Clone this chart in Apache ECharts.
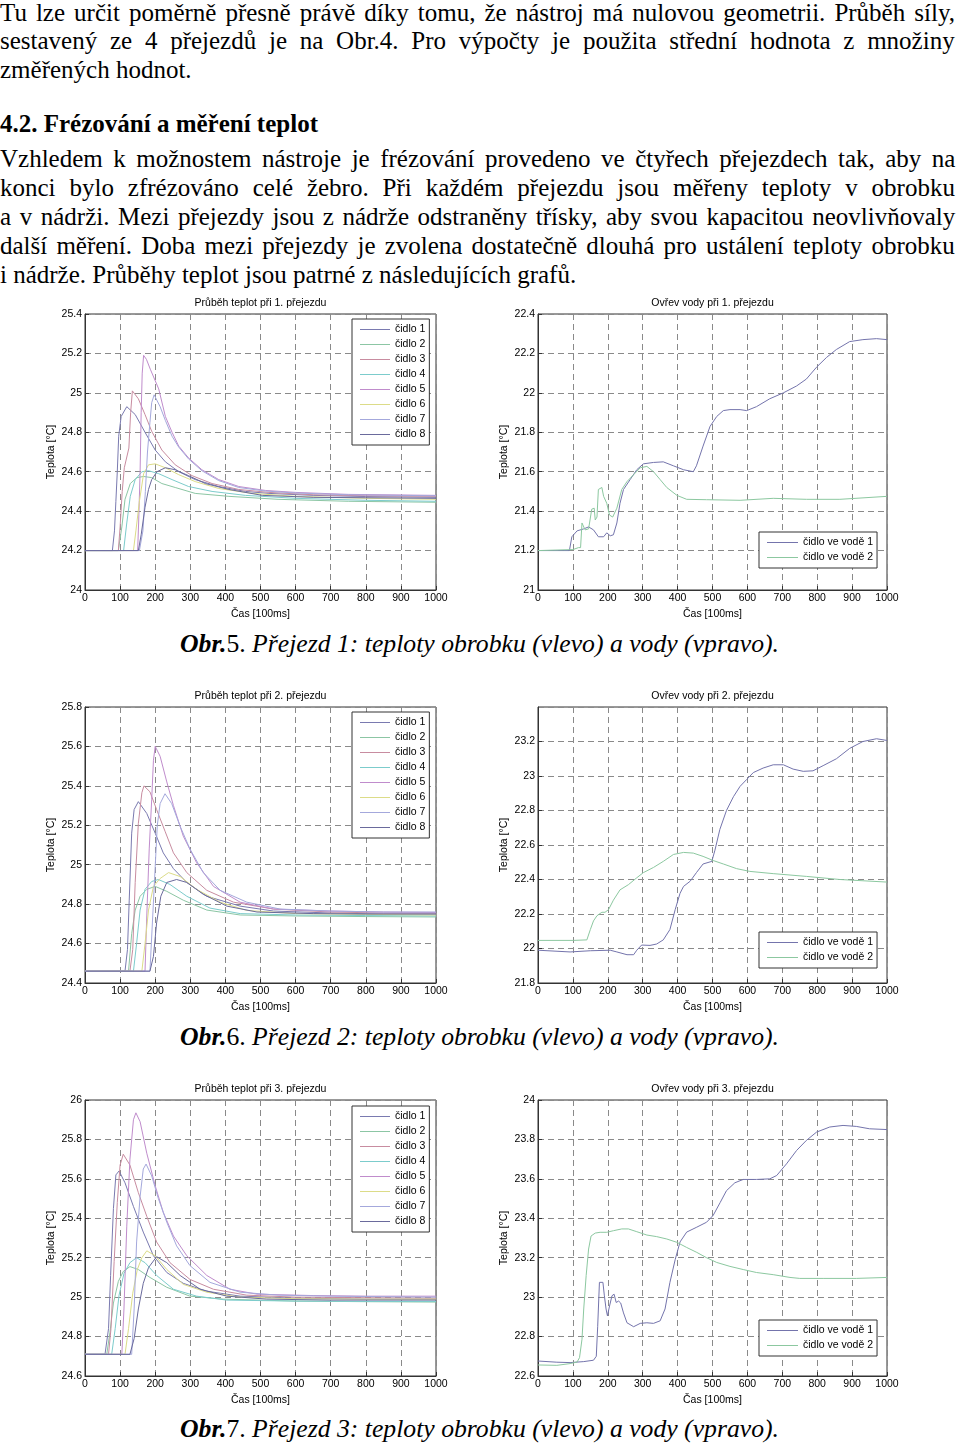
<!DOCTYPE html>
<html><head><meta charset="utf-8">
<script src="https://cdn.jsdelivr.net/npm/echarts@6/dist/echarts.min.js"></script>
<style>
html,body{margin:0;padding:0;background:#fff}
body{width:960px;height:1446px;position:relative;overflow:hidden}
.t{position:absolute;left:0;white-space:nowrap;font-family:"Liberation Serif","Times New Roman",serif;font-size:25px;line-height:29px;color:#000}
.cap{position:absolute;white-space:nowrap;font-family:"Liberation Serif","Times New Roman",serif;font-size:25.7px;line-height:34px;color:#000}
.c{position:absolute}
</style></head><body>
<div class="t j" data-w="955" style="top:-2px">Tu lze určit poměrně přesně právě díky tomu, že nástroj má nulovou geometrii. Průběh síly,</div>
<div class="t j" data-w="955" style="top:26px">sestavený ze 4 přejezdů je na Obr.4. Pro výpočty je použita střední hodnota z množiny</div>
<div class="t" style="top:55px">změřených hodnot.</div>
<div class="t" style="top:109px;font-weight:bold">4.2. Frézování a měření teplot</div>
<div class="t j" data-w="955" style="top:144px">Vzhledem k možnostem nástroje je frézování provedeno ve čtyřech přejezdech tak, aby na</div>
<div class="t j" data-w="955" style="top:173px">konci bylo zfrézováno celé žebro. Při každém přejezdu jsou měřeny teploty v obrobku</div>
<div class="t j" data-w="955" style="top:202px">a v nádrži. Mezi přejezdy jsou z nádrže odstraněny třísky, aby svou kapacitou neovlivňovaly</div>
<div class="t j" data-w="955" style="top:231px">další měření. Doba mezi přejezdy je zvolena dostatečně dlouhá pro ustálení teploty obrobku</div>
<div class="t" style="top:260px">i nádrže. Průběhy teplot jsou patrné z následujících grafů.</div>

<div class="cap" style="left:180px;top:627px"><b><i>Obr.</i></b>5. <i>Přejezd 1: teploty obrobku (vlevo) a vody (vpravo).</i></div>
<div class="cap" style="left:180px;top:1020px"><b><i>Obr.</i></b>6. <i>Přejezd 2: teploty obrobku (vlevo) a vody (vpravo).</i></div>
<div class="cap" style="left:180px;top:1412px"><b><i>Obr.</i></b>7. <i>Přejezd 3: teploty obrobku (vlevo) a vody (vpravo).</i></div>

<div id="L1" class="c" style="left:0;top:280px;width:480px;height:345px"></div>
<div id="R1" class="c" style="left:480px;top:280px;width:480px;height:345px"></div>
<div id="L2" class="c" style="left:0;top:673px;width:480px;height:345px"></div>
<div id="R2" class="c" style="left:480px;top:673px;width:480px;height:345px"></div>
<div id="L3" class="c" style="left:0;top:1066px;width:480px;height:345px"></div>
<div id="R3" class="c" style="left:480px;top:1066px;width:480px;height:345px"></div>

<script>
// ---- labels ----
const sensorNames = ['čidlo 1','čidlo 2','čidlo 3','čidlo 4','čidlo 5','čidlo 6','čidlo 7','čidlo 8'];
const waterNames = ['čidlo ve vodě 1','čidlo ve vodě 2'];
const leftTitles = ['Průběh teplot při 1. přejezdu','Průběh teplot při 2. přejezdu','Průběh teplot při 3. přejezdu'];
const rightTitles = ['Ovřev vody při 1. přejezdu','Ovřev vody při 2. přejezdu','Ovřev vody při 3. přejezdu'];
const xName = 'Čas [100ms]';
const yName = 'Teplota [°C]';
const xRange = [0, 1000, 100];
const leftRanges = [[24, 25.4], [24.4, 25.8], [24.6, 26]];
const rightRanges = [[21, 22.4], [21.8, 23.4], [22.6, 24]];

// ---- pass 1, workpiece ----
const p1_c1 = [[0,24.2],[78,24.2],[84,24.3],[88,24.45],[92,24.6],[96,24.78],[103,24.88],[119,24.93],[143,24.89],[171,24.8],[200,24.71],[229,24.65],[267,24.6],[314,24.56],[381,24.525],[457,24.5],[524,24.49],[650,24.48],[800,24.474],[1000,24.47]];
const p1_c2 = [[0,24.2],[95,24.2],[105,24.32],[114,24.46],[129,24.54],[148,24.57],[167,24.576],[190,24.57],[219,24.54],[257,24.52],[314,24.49],[410,24.475],[550,24.46],[750,24.45],[1000,24.445]];
const p1_c3 = [[0,24.2],[95,24.2],[100,24.32],[106,24.5],[112,24.62],[125,24.72],[130,24.9],[135,25.01],[152,24.97],[171,24.89],[190,24.805],[219,24.71],[257,24.635],[305,24.58],[362,24.54],[438,24.51],[524,24.495],[650,24.483],[800,24.478],[1000,24.475]];
const p1_c4 = [[0,24.2],[110,24.2],[119,24.34],[129,24.475],[143,24.56],[162,24.6],[181,24.605],[210,24.59],[248,24.56],[295,24.525],[362,24.5],[457,24.48],[600,24.465],[800,24.455],[1000,24.45]];
const p1_c5 = [[0,24.2],[150,24.2],[153,24.35],[157,24.6],[160,24.9],[163,25.1],[167,25.19],[175,25.17],[186,25.12],[210,25.02],[229,24.88],[248,24.8],[267,24.73],[295,24.67],[333,24.61],[381,24.56],[438,24.525],[514,24.505],[600,24.495],[750,24.485],[1000,24.48]];
const p1_c6 = [[0,24.2],[138,24.2],[145,24.3],[155,24.45],[167,24.59],[181,24.635],[200,24.64],[229,24.62],[267,24.585],[314,24.55],[381,24.515],[476,24.49],[600,24.475],[800,24.465],[1000,24.46]];
const p1_c7 = [[0,24.2],[155,24.2],[165,24.3],[172,24.5],[178,24.7],[185,24.85],[190,24.95],[197,24.99],[214,24.93],[229,24.86],[248,24.78],[267,24.725],[295,24.665],[333,24.605],[381,24.555],[438,24.52],[514,24.502],[600,24.492],[750,24.483],[1000,24.478]];
const p1_c8 = [[0,24.2],[152,24.2],[160,24.28],[171,24.42],[181,24.51],[190,24.56],[205,24.6],[229,24.62],[257,24.61],[295,24.58],[343,24.54],[410,24.51],[505,24.48],[650,24.47],[800,24.468],[1000,24.465]];

// ---- pass 2, workpiece ----
const p2_c1 = [[0,24.46],[114,24.46],[121,24.57],[126,24.82],[133,25.16],[140,25.28],[152,25.32],[176,25.26],[200,25.16],[223,25.06],[252,24.98],[290,24.91],[347,24.84],[442,24.79],[537,24.765],[700,24.755],[850,24.75],[1000,24.75]];
const p2_c2 = [[0,24.46],[124,24.46],[133,24.65],[143,24.77],[157,24.84],[176,24.875],[200,24.89],[233,24.865],[280,24.82],[347,24.77],[442,24.745],[600,24.74],[800,24.737],[1000,24.735]];
const p2_c3 = [[0,24.46],[128,24.46],[136,24.57],[143,24.91],[152,25.21],[162,25.365],[168,25.4],[185,25.37],[204,25.28],[228,25.17],[252,25.06],[290,24.96],[347,24.87],[423,24.81],[537,24.775],[700,24.76],[850,24.755],[1000,24.755]];
const p2_c4 = [[0,24.46],[138,24.46],[147,24.6],[157,24.77],[171,24.875],[190,24.915],[209,24.925],[242,24.9],[290,24.84],[356,24.78],[442,24.752],[600,24.745],[800,24.742],[1000,24.74]];
const p2_c5 = [[0,24.46],[171,24.46],[176,24.74],[183,25.08],[190,25.33],[195,25.53],[200,25.6],[214,25.55],[233,25.42],[252,25.3],[280,25.145],[318,25.01],[366,24.89],[442,24.81],[537,24.775],[700,24.765],[850,24.76],[1000,24.758]];
const p2_c6 = [[0,24.46],[162,24.46],[171,24.6],[181,24.77],[195,24.89],[214,24.93],[238,24.96],[271,24.94],[318,24.875],[385,24.81],[461,24.768],[600,24.752],[800,24.748],[1000,24.745]];
const p2_c7 = [[0,24.46],[185,24.46],[193,24.74],[200,24.99],[206,25.2],[214,25.31],[228,25.36],[247,25.31],[271,25.195],[299,25.08],[337,24.96],[385,24.87],[461,24.81],[556,24.775],[700,24.765],[850,24.76],[1000,24.76]];
const p2_c8 = [[0,24.46],[185,24.46],[195,24.535],[204,24.705],[216,24.84],[233,24.91],[261,24.925],[290,24.91],[337,24.85],[404,24.79],[490,24.76],[650,24.752],[800,24.75],[1000,24.75]];

// ---- pass 3, workpiece ----
const p3_c1 = [[0,24.71],[57,24.71],[67,24.84],[73,25.11],[81,25.45],[88,25.62],[97,25.64],[114,25.58],[138,25.46],[166,25.33],[195,25.21],[233,25.125],[280,25.07],[347,25.03],[442,25.005],[600,24.995],[800,24.99],[1000,24.99]];
const p3_c2 = [[0,24.71],[62,24.71],[71,24.82],[81,24.97],[95,25.08],[109,25.13],[128,25.155],[152,25.14],[185,25.1],[233,25.05],[299,25.005],[394,24.99],[600,24.98],[800,24.977],[1000,24.975]];
const p3_c3 = [[0,24.71],[67,24.71],[74,24.84],[83,25.18],[92,25.48],[100,25.67],[109,25.725],[128,25.67],[152,25.53],[176,25.41],[204,25.28],[242,25.175],[299,25.09],[366,25.04],[461,25.01],[600,25.0],[800,24.997],[1000,24.995]];
const p3_c4 = [[0,24.71],[76,24.71],[86,24.84],[97,25.01],[111,25.12],[128,25.175],[147,25.2],[171,25.175],[204,25.11],[252,25.04],[318,25.005],[404,24.985],[600,24.98],[800,24.978],[1000,24.978]];
const p3_c5 = [[0,24.71],[105,24.71],[111,24.94],[119,25.36],[128,25.7],[138,25.9],[145,25.935],[157,25.89],[176,25.73],[200,25.565],[223,25.43],[252,25.31],[290,25.21],[347,25.11],[413,25.04],[490,25.015],[650,25.008],[800,25.005],[1000,25.005]];
const p3_c6 = [[0,24.71],[114,24.71],[124,24.84],[136,25.02],[149,25.14],[162,25.2],[176,25.235],[200,25.21],[233,25.14],[280,25.065],[347,25.025],[442,25.0],[600,24.992],[800,24.99],[1000,24.99]];
const p3_c7 = [[0,24.71],[133,24.71],[140,24.94],[147,25.28],[157,25.51],[166,25.65],[174,25.675],[190,25.615],[209,25.5],[233,25.38],[261,25.26],[299,25.16],[356,25.075],[442,25.025],[550,25.01],[700,25.005],[1000,25.0]];
const p3_c8 = [[0,24.71],[128,24.71],[140,24.79],[152,24.94],[166,25.07],[181,25.15],[204,25.205],[233,25.175],[271,25.11],[328,25.04],[404,25.005],[518,24.99],[700,24.985],[1000,24.985]];

// ---- water ----
const p1_w1 = [[0,21.2],[90,21.2],[97,21.27],[112,21.3],[131,21.31],[145,21.32],[159,21.305],[173,21.27],[188,21.27],[197,21.29],[207,21.275],[216,21.28],[226,21.34],[235,21.44],[245,21.51],[264,21.56],[283,21.61],[302,21.64],[331,21.647],[359,21.65],[388,21.63],[417,21.61],[445,21.6],[454,21.63],[473,21.73],[493,21.83],[512,21.88],[531,21.91],[550,21.915],[579,21.915],[598,21.91],[626,21.93],[664,21.97],[703,22.0],[741,22.035],[769,22.07],[798,22.13],[827,22.18],[855,22.22],[893,22.26],[931,22.27],[970,22.275],[1000,22.27]];
const p1_w2 = [[0,21.2],[100,21.205],[116,21.215],[122,21.215],[126,21.34],[131,21.35],[135,21.305],[145,21.31],[154,21.41],[161,21.415],[164,21.355],[169,21.37],[173,21.51],[183,21.52],[188,21.475],[197,21.44],[205,21.38],[214,21.37],[226,21.415],[240,21.51],[255,21.55],[274,21.585],[293,21.62],[312,21.627],[331,21.6],[350,21.56],[369,21.52],[398,21.48],[426,21.46],[483,21.458],[579,21.455],[674,21.465],[769,21.46],[865,21.46],[1000,21.475]];
const p2_w1 = [[0,21.99],[92,21.98],[150,21.987],[207,21.99],[226,21.98],[255,21.964],[274,21.964],[283,21.99],[297,22.02],[321,22.018],[340,22.026],[359,22.05],[378,22.11],[393,22.225],[407,22.32],[417,22.36],[436,22.39],[454,22.44],[473,22.49],[498,22.505],[507,22.57],[521,22.69],[540,22.8],[560,22.88],[579,22.94],[598,22.98],[617,23.02],[645,23.046],[674,23.065],[703,23.065],[731,23.04],[760,23.027],[788,23.03],[817,23.06],[855,23.1],[893,23.16],[931,23.2],[970,23.216],[1000,23.206]];
const p2_w2 = [[0,22.047],[102,22.047],[140,22.05],[150,22.11],[159,22.16],[169,22.19],[183,22.21],[192,22.21],[202,22.225],[216,22.28],[235,22.34],[259,22.37],[283,22.41],[302,22.44],[331,22.47],[359,22.505],[388,22.545],[417,22.557],[445,22.553],[473,22.534],[502,22.51],[531,22.49],[569,22.463],[607,22.447],[674,22.434],[769,22.418],[865,22.4],[1000,22.385]];
const p3_w1 = [[0,22.676],[54,22.67],[92,22.668],[131,22.673],[159,22.68],[167,22.7],[171,22.85],[176,23.075],[180,23.08],[186,23.075],[190,23.01],[195,22.94],[199,22.905],[205,22.955],[212,23.007],[218,23.015],[224,22.973],[231,22.98],[237,22.97],[245,22.92],[255,22.87],[274,22.85],[293,22.867],[312,22.87],[331,22.867],[350,22.88],[364,22.94],[378,23.075],[393,23.19],[407,23.28],[426,23.33],[455,23.355],[483,23.38],[502,23.415],[522,23.48],[540,23.54],[564,23.58],[588,23.597],[626,23.597],[664,23.6],[684,23.617],[712,23.676],[741,23.744],[769,23.795],[798,23.837],[836,23.863],[874,23.871],[912,23.866],[950,23.854],[1000,23.85]];
const p3_w2 = [[0,22.656],[54,22.654],[92,22.663],[112,22.671],[119,22.693],[126,22.786],[131,22.94],[138,23.11],[145,23.244],[152,23.31],[164,23.325],[178,23.329],[197,23.329],[216,23.337],[240,23.346],[259,23.346],[283,23.332],[312,23.315],[340,23.307],[369,23.295],[398,23.278],[426,23.252],[455,23.227],[483,23.2],[512,23.176],[550,23.156],[588,23.14],[626,23.125],[674,23.114],[722,23.1],[750,23.095],[817,23.095],[912,23.095],[1000,23.1]];

const sensorColors = ['#7a7ab0','#8cc6a4','#c88ca0','#7ccccc','#c08ccc','#dcdc88','#a4a8dc','#6a6a9c'];
const waterColors = ['#7474ac','#8cc8a0'];

// ---- text justification ----
document.querySelectorAll('.j').forEach(el => {
  const target = +el.dataset.w;
  const nat = el.offsetWidth;
  const spaces = (el.textContent.match(/ /g) || []).length;
  if (spaces) el.style.wordSpacing = ((target - nat) / spaces) + 'px';
});

const FONT = '"Liberation Sans", Arial, Helvetica, sans-serif';
const FS = 10.5;

function build(id, cfg) {
  const chart = echarts.init(document.getElementById(id), null, {renderer: 'canvas'});
  const g = cfg.grid;
  const series = cfg.names.map((n, i) => ({
    name: n, type: 'line', data: cfg.data[i], showSymbol: false, symbol: 'none',
    silent: true, animation: false,
    lineStyle: {width: 1, color: cfg.colors[i]}, itemStyle: {color: cfg.colors[i]}
  }));
  chart.setOption({
    animation: false,
    graphic: [{
      type: 'text', x: g.left + g.width / 2, y: g.top - 11,
      style: {text: cfg.title, font: FS + 'px ' + FONT, fill: '#000', textAlign: 'center', textVerticalAlign: 'middle'}
    }],
    grid: {left: g.left, top: g.top, width: g.width, height: g.height, show: true, borderColor: '#333', borderWidth: 1, backgroundColor: '#fff'},
    xAxis: {
      type: 'value', min: xRange[0], max: xRange[1], interval: xRange[2],
      axisLine: {show: true, lineStyle: {color: '#333'}},
      axisTick: {show: true, inside: true, length: 4, lineStyle: {color: '#333'}},
      axisLabel: {color: '#000', fontSize: FS, fontFamily: FONT, margin: 3, formatter: v => String(v)},
      splitLine: {show: true, lineStyle: {color: '#8a8a8a', width: 1, type: [6, 4]}},
      name: xName, nameLocation: 'middle', nameGap: 17,
      nameTextStyle: {color: '#000', fontSize: FS, fontFamily: FONT}
    },
    yAxis: {
      type: 'value', min: cfg.yr[0], max: cfg.yr[1], interval: 0.2,
      axisLine: {show: true, lineStyle: {color: '#333'}},
      axisTick: {show: true, inside: true, length: 4, lineStyle: {color: '#333'}},
      axisLabel: {color: '#000', fontSize: FS, fontFamily: FONT, margin: 3, showMaxLabel: !cfg.hideMax,
        formatter: v => String(Math.round(v * 10) / 10)},
      splitLine: {show: true, lineStyle: {color: '#8a8a8a', width: 1, type: [6, 4]}},
      name: yName, nameLocation: 'middle', nameGap: 28, nameMoveOverlap: false,
      nameTextStyle: {color: '#000', fontSize: FS, fontFamily: FONT}
    },
    legend: {
      show: true, orient: 'vertical', left: cfg.legend.left, top: cfg.legend.top,
      data: cfg.names, selectedMode: false, icon: 'rect',
      itemWidth: cfg.legend.iw, itemHeight: 1, itemGap: 4,
      padding: [5, 4, 5, 8], borderColor: '#333', borderWidth: 1, backgroundColor: '#fff', borderRadius: 0,
      textStyle: {color: '#000', fontSize: FS, fontFamily: FONT, lineHeight: 11}
    },
    series: series
  });
}

const leftGrid = {left: 85, top: 34, width: 351, height: 276};
const rightGrid = {left: 58, top: 34, width: 349, height: 276};
const leftData = [
  [p1_c1,p1_c2,p1_c3,p1_c4,p1_c5,p1_c6,p1_c7,p1_c8],
  [p2_c1,p2_c2,p2_c3,p2_c4,p2_c5,p2_c6,p2_c7,p2_c8],
  [p3_c1,p3_c2,p3_c3,p3_c4,p3_c5,p3_c6,p3_c7,p3_c8]
];
const rightData = [[p1_w1,p1_w2],[p2_w1,p2_w2],[p3_w1,p3_w2]];
const rightLegendTop = [252, 259, 254];
const leftLegendTop = [39, 39, 40];

for (let r = 0; r < 3; r++) {
  build('L' + (r + 1), {grid: leftGrid, title: leftTitles[r], yr: leftRanges[r], names: sensorNames,
    data: leftData[r], colors: sensorColors, legend: {left: 352, top: leftLegendTop[r], iw: 30}});
  build('R' + (r + 1), {grid: rightGrid, title: rightTitles[r], yr: rightRanges[r], names: waterNames,
    data: rightData[r], colors: waterColors, hideMax: r === 1, legend: {left: 279, top: rightLegendTop[r], iw: 31}});
}
</script>
</body></html>
